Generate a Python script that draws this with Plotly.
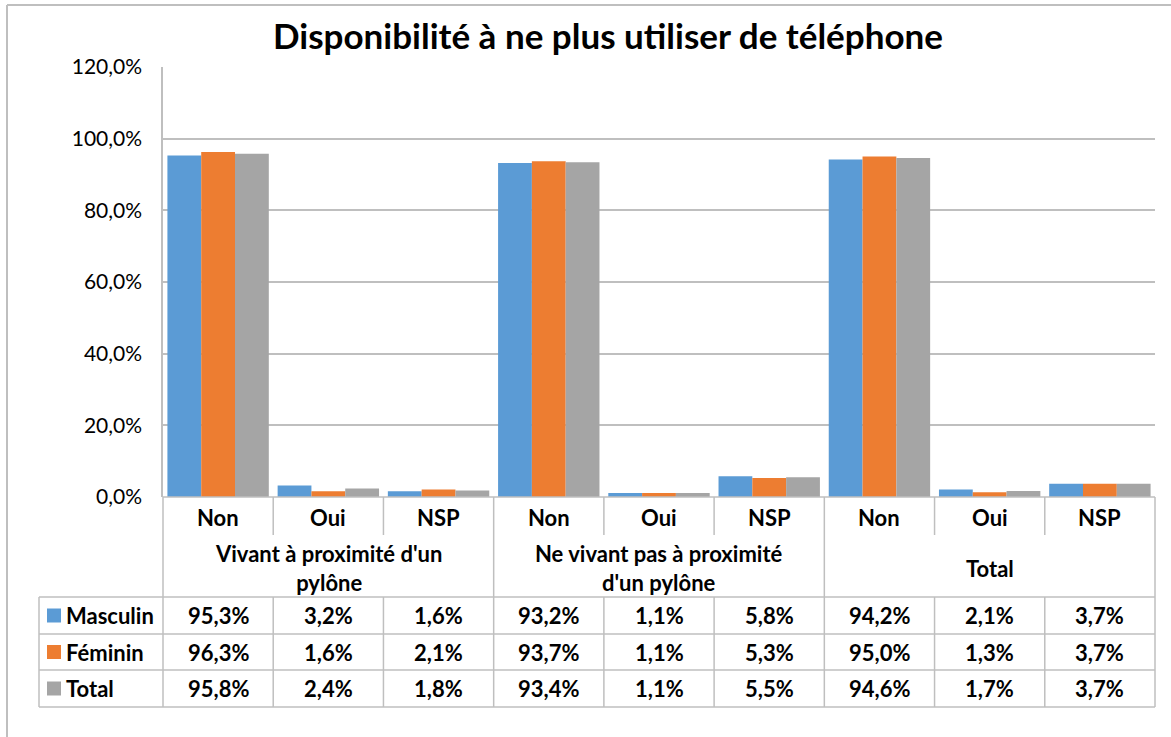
import plotly.graph_objects as go

categories = ["Non", "Oui", "NSP", "Non", "Oui", "NSP", "Non", "Oui", "NSP"]
groups = ["Vivant à proximité d'un<br>pylône", "Ne vivant pas à proximité<br>d'un pylône", "Total"]
series_names = ["Masculin", "Féminin", "Total"]
masculin = [95.3, 3.2, 1.6, 93.2, 1.1, 5.8, 94.2, 2.1, 3.7]
feminin = [96.3, 1.6, 2.1, 93.7, 1.1, 5.3, 95.0, 1.3, 3.7]
total = [95.8, 2.4, 1.8, 93.4, 1.1, 5.5, 94.6, 1.7, 3.7]
colors = ["#5B9BD5", "#ED7D31", "#A5A5A5"]
title = "Disponibilité à ne plus utiliser de téléphone"

W, H = 1171, 737
L, R, T, B = 163, 1155, 67, 497
FONT = "Lato"
GRID = "#BFBFBF"
TXT = "#000000"
FS = 22

def px(x):
    return (x - L) / (R - L)

def py(y):
    return (B - y) / (B - T)

series = [masculin, feminin, total]
n = len(categories)
xs = list(range(n))

fig = go.Figure()
for name, vals, c in zip(series_names, series, colors):
    fig.add_trace(go.Bar(x=xs, y=vals, name=name, marker=dict(color=c, line=dict(width=0)),
                         showlegend=False))

shapes = []
annotations = []

def hline(x0, x1, y, w=1.5):
    shapes.append(dict(type="line", xref="paper", yref="paper", x0=px(x0), x1=px(x1),
                       y0=py(y), y1=py(y), line=dict(color=GRID, width=w)))

def vline(x, y0, y1, w=1.5):
    shapes.append(dict(type="line", xref="paper", yref="paper", x0=px(x), x1=px(x),
                       y0=py(y0), y1=py(y1), line=dict(color=GRID, width=w)))

def text(x, y, s, size=FS, xanchor="center", bold=True):
    annotations.append(dict(x=x, y=y, xref="paper", yref="paper", xanchor=xanchor, yanchor="middle",
                            text=("<b>%s</b>" % s) if bold else s, showarrow=False,
                            font=dict(size=size, color=TXT, family=FONT)))

# outer chart border
hline(7, W + 5, 5, 2)
vline(7, 5, H + 5, 2)

colw = (R - L) / n
hdr_top, hdr_bot, grp_bot = 497, 537, 597
row_edges = [597, 634, 670, 707]
leg_left = 39

# table lines
hline(L, R, hdr_top)
for y in row_edges:
    hline(leg_left, R, y)
vline(leg_left, row_edges[0], row_edges[-1])
for i in range(n + 1):
    x = L + i * colw
    if i % 3 == 0:
        vline(x, hdr_top, row_edges[-1])
    else:
        vline(x, hdr_top, hdr_bot - 2)
        vline(x, grp_bot, row_edges[-1])

def cx(i):
    return (i + 0.5) / n

for i, c in enumerate(categories):
    text(cx(i), py((hdr_top + hdr_bot) / 2), c)
for g, lab in enumerate(groups):
    text((g * 3 + 1.5) / n, py((hdr_bot + grp_bot) / 2 + 1), lab)
for r, (name, vals, c) in enumerate(zip(series_names, series, colors)):
    yc = (row_edges[r] + row_edges[r + 1]) / 2
    shapes.append(dict(type="rect", xref="paper", yref="paper", x0=px(47), x1=px(61),
                       y0=py(yc + 7), y1=py(yc - 7), fillcolor=c, line=dict(width=0)))
    text(px(64), py(yc), name, xanchor="left")
    for i, v in enumerate(vals):
        text(cx(i), py(yc), ("%.1f" % v).replace(".", ",") + "%")

text(px(608), py(35), title, size=35)

fig.update_layout(
    width=W, height=H,
    margin=dict(l=L, r=W - R, t=T, b=H - B),
    paper_bgcolor="white", plot_bgcolor="white",
    barmode="group", bargap=0.08, bargroupgap=0,
    separators=", ",
    shapes=shapes, annotations=annotations,
    font=dict(family=FONT, color=TXT),
)
fig.update_xaxes(range=[-0.5, n - 0.5], showticklabels=False, showgrid=False, zeroline=False,
                 showline=False, fixedrange=True)
fig.update_yaxes(range=[0, 120], dtick=20, tickformat=".1f", ticksuffix="%",
                 showgrid=True, gridcolor=GRID, gridwidth=1.5, zeroline=False,
                 showline=True, linecolor=GRID, linewidth=1.5,
                 tickfont=dict(size=21, color=TXT, family=FONT), ticks="", ticklabelstandoff=15)

fig.write_html("out.html", config={"displayModeBar": False})
with open("out.html", encoding="utf-8") as f:
    html = f.read()
html = html.replace("<head>", "<head><style>html,body{margin:0;padding:0;overflow:hidden;}</style>", 1)
with open("out.html", "w", encoding="utf-8") as f:
    f.write(html)
